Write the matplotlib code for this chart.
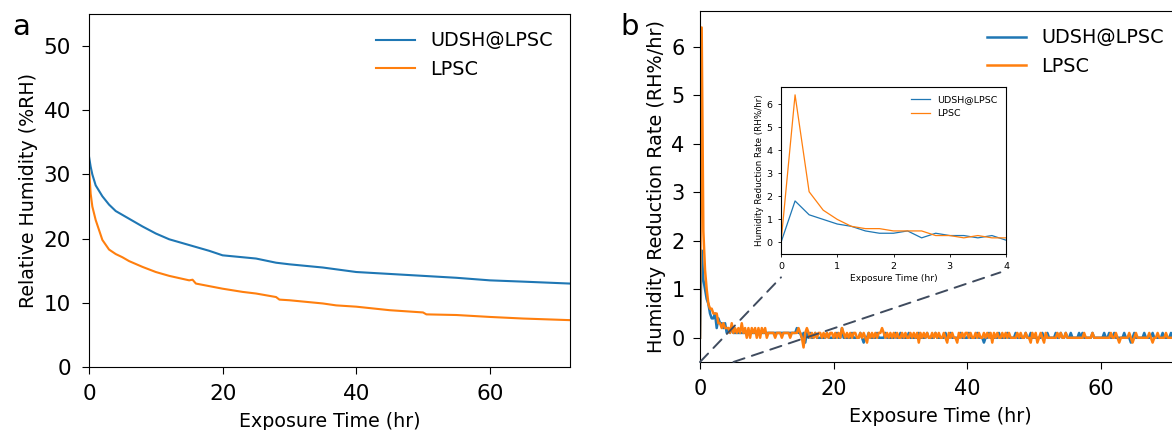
import numpy as np
import matplotlib.pyplot as plt
from matplotlib.patches import ConnectionPatch

plt.rcParams['font.family'] = ['DejaVu Sans']

# ---- panel a: relative humidity vs time ----
t_udsh = [0, 0.25, 0.5, 1, 2, 3, 4, 5, 6, 8, 10, 12, 15, 18, 20, 25, 28, 30, 35, 40, 45, 50, 55, 60, 65, 72]
rh_udsh = [32.8, 31.2, 30.0, 28.3, 26.6, 25.3, 24.3, 23.7, 23.1, 21.9, 20.8, 19.9, 19.0, 18.1, 17.4,
           16.9, 16.25, 16.0, 15.5, 14.8, 14.5, 14.2, 13.9, 13.5, 13.3, 13.0]
t_lpsc = [0, 0.25, 0.5, 1, 2, 3, 4, 5, 6, 8, 10, 12, 15, 15.5, 16, 20, 23, 25, 28, 28.5, 30, 35, 37,
          40, 45, 50, 50.5, 55, 60, 65, 72]
rh_lpsc = [31.0, 27.0, 25.0, 22.9, 19.8, 18.3, 17.6, 17.1, 16.5, 15.6, 14.8, 14.2, 13.5, 13.6, 13.0,
           12.2, 11.7, 11.45, 10.9, 10.5, 10.4, 9.9, 9.6, 9.4, 8.85, 8.5, 8.2, 8.1, 7.8, 7.55, 7.3]

# ---- panel b: reduction rate, one sample every 0.25 hr ----
# first 4 hr (t = 0 ... 4), values in RH%/hr
rate_udsh_first = [0, 1.8, 1.2, 1.0, 0.8, 0.7, 0.5, 0.4, 0.4, 0.5, 0.2, 0.4, 0.3, 0.3, 0.2, 0.3, 0.1]
rate_lpsc_first = [0, 6.4, 2.2, 1.4, 1.0, 0.7, 0.6, 0.6, 0.5, 0.5, 0.5, 0.3, 0.3, 0.2, 0.3, 0.2, 0.2]
# t = 4.25 ... 72, in tenths of RH%/hr, one row per hour
rest_udsh_tenths = [
    2, 1, 2, 1,  1, 1, 1, 1,  1, 1, 1, 1,  1, 1, 1, 1,  1, 1, 1, 1,  1, 1, 1, 1,    # 4-9
    1, 1, 1, 1,  1, 1, 1, 1,  1, 1, 1, 1,  1, 1, 1, 1,  1, 2, 1, 1,  0, 1, -1, 1,   # 10-15
    0, 1, 0, 0,  1, 0, 0, 0,  0, 0, 0, 1,  0, 0, 0, 0,  0, 1, 0, 0,  2, 0, 0, 0,    # 16-21
    0, 0, 1, 0,  0, 0, 0, 1,  0, -1, 0, 0,  1, 0, 0, 0,  0, 1, 0, 0,  0, 0, 1, 0,   # 22-27
    0, 0, 0, 0,  1, 0, 0, 1,  0, 0, 0, 0,  1, 0, 0, 0,  0, 0, 1, 0,  0, 0, 0, 1,    # 28-33
    0, 0, 0, 0,  1, 0, 0, 0,  0, 0, 1, 0,  0, 1, 0, 0,  0, 0, 0, 1,  0, 0, 0, 0,    # 34-39
    1, 0, 0, 0,  0, 1, 0, 0,  0, -1, 0, 0,  1, 0, 0, 0,  0, 0, 1, 0,  0, 0, 0, 1,   # 40-45
    0, 0, 0, 0,  1, 0, 0, 0,  0, 0, 1, 0,  0, 1, 0, 0,  0, 0, 0, 0,  1, 0, 0, 1,    # 46-51
    0, 0, 0, 0,  1, 0, 0, 1,  0, 0, 1, 0,  0, 1, 0, 0,  0, 0, 1, 0,  1, 0, 0, 0,    # 52-57
    0, 0, 1, 0,  0, 0, 0, 0,  0, 1, 0, 0,  1, 0, 0, 1,  0, 0, 0, 0,  0, 1, 0, 0,    # 58-63
    0, -1, 0, 1,  0, 0, 0, 0,  0, 1, 0, 0,  0, 0, 1, 0,  0, 0, 0, 0,  1, 0, 0, 0,   # 64-69
    0, 1, 0, 0,  0, 0, 1, 0,                                                        # 70-71
]
rest_lpsc_tenths = [
    2, 1, 3, 1,  2, 1, 2, 1,  3, 1, 2, 0,  2, 0, 2, 1,  2, 0, 2, 0,  2, 1, 2, 0,    # 4-9
    1, 1, 1, 1,  0, 1, 1, 1,  0, 1, 1, 1,  1, 0, 1, 1,  1, 1, 2, 1,  0, -2, 1, 2,   # 10-15
    1, 0, 1, 0,  1, 0, 1, 1,  0, 1, 0, 1,  0, 1, 1, 0,  1, 0, 1, 0,  2, 1, 0, 1,    # 16-21
    0, 1, 0, 1,  1, 0, 0, 1,  0, 1, 0, -1,  1, 0, 1, 0,  1, 0, 1, 1,  2, 1, 0, 1,   # 22-27
    0, 1, 0, 1,  0, 1, 0, 0,  1, 0, 1, 0,  0, 1, 0, 1,  0, 1, -1, 1,  0, 1, 0, 1,   # 28-33
    0, 0, 1, 0,  1, 0, 1, 0,  0, 1, 0, -1,  1, 0, 1, 0,  0, -1, 1, 0,  1, 0, 1, 1,  # 34-39
    0, 1, 0, 0,  1, 0, 1, 0,  0, 1, 0, 1,  0, 1, -1, 1,  0, 1, 0, 0,  1, 0, 1, 0,   # 40-45
    1, 0, 0, 0,  0, 1, 0, 1,  0, 0, 1, 0,  0, -1, 1, 0,  1, -1, 0, 1,  0, -1, 1, 0, # 46-51
    0, 0, 0, 0,  0, 1, 0, 1,  0, 0, 1, 0,  0, 0, 0, 0,  0, 0, 0, 0,  0, 1, 0, 0,    # 52-57
    0, 0, 1, 0,  0, 0, 0, 0,  0, 0, 0, 0,  0, 1, 0, 0,  1, 0, -1, 0,  0, 0, 0, 0,   # 58-63
    1, 0, -1, 0,  1, 0, 0, 0,  0, 0, 0, 0,  1, 0, -1, 0,  0, 1, 0, 0,  0, 0, 1, 0,  # 64-69
    0, 0, 0, 0,  0, 1, 0, 0,                                                        # 70-71
]

t_rate = np.arange(len(rate_udsh_first) + len(rest_udsh_tenths)) * 0.25
rate_udsh = np.concatenate([rate_udsh_first, np.array(rest_udsh_tenths) / 10])
rate_lpsc = np.concatenate([rate_lpsc_first, np.array(rest_lpsc_tenths) / 10])

labels = ['UDSH@LPSC', 'LPSC']
c_blue = '#1f77b4'
c_orange = '#ff7f0e'

fig = plt.figure(figsize=(11.72, 4.30), dpi=100)

# panel a
ax1 = fig.add_axes([89/1172, 63/430, 481/1172, 353/430])
ax1.plot(t_udsh, rh_udsh, color=c_blue, lw=1.5, label=labels[0])
ax1.plot(t_lpsc, rh_lpsc, color=c_orange, lw=1.5, label=labels[1])
ax1.set_xlim(0, 72)
ax1.set_ylim(0, 55)
ax1.set_yticks([0, 10, 20, 30, 40, 50])
ax1.set_xticks([0, 20, 40, 60])
ax1.tick_params(labelsize=15.5, length=5)
ax1.tick_params(axis='x', pad=7)
ax1.tick_params(axis='y', pad=8)
ax1.set_xlabel('Exposure Time (hr)', fontsize=13.7, labelpad=6)
ax1.set_ylabel('Relative Humidity (%RH)', fontsize=13.7)
ax1.legend(loc='upper right', frameon=False, fontsize=13.9)
fig.text(12/1172, 1 - 27/430, 'a', fontsize=21, va='center')

# panel b (axes runs past the right edge like the cropped original)
ax2 = fig.add_axes([700/1172, 68/430, 481/1172, 351/430])
ax2.plot(t_rate, rate_udsh, color=c_blue, lw=1.8, label=labels[0])
ax2.plot(t_rate, rate_lpsc, color=c_orange, lw=1.8, label=labels[1])
ax2.set_xlim(0, 72)
ax2.set_ylim(-0.5, 6.74)
ax2.set_xticks([0, 20, 40, 60])
ax2.set_yticks(range(7))
ax2.tick_params(labelsize=15, length=5)
ax2.tick_params(axis='x', pad=7)
ax2.tick_params(axis='y', pad=6)
ax2.set_xlabel('Exposure Time (hr)', fontsize=13.8, labelpad=6)
ax2.set_ylabel('Humidity Reduction Rate (RH%/hr)', fontsize=13.9)
ax2.legend(loc='upper right', frameon=False, fontsize=13.9)
fig.text(620/1172, 1 - 27/430, 'b', fontsize=21, va='center')

# inset: first 4 hours
axi = fig.add_axes([781/1172, 176/430, 225/1172, 167/430])
axi.plot(t_rate, rate_udsh, color=c_blue, lw=0.9, label=labels[0])
axi.plot(t_rate, rate_lpsc, color=c_orange, lw=0.9, label=labels[1])
axi.set_xlim(0, 4)
axi.set_ylim(-0.5, 6.74)
axi.set_xticks([0, 1, 2, 3, 4])
axi.set_yticks(range(7))
axi.tick_params(labelsize=6.8, length=2.5, width=0.6)
for s in axi.spines.values():
    s.set_linewidth(0.8)
axi.set_xlabel('Exposure Time (hr)', fontsize=6.6, labelpad=2)
axi.set_ylabel('Humidity Reduction Rate (RH%/hr)', fontsize=6.3, labelpad=2)
axi.legend(loc='upper right', frameon=False, fontsize=6.8)

# dashed zoom lines
for xa, xb, yb in [(0, 0, -0.14), (5, 0.975, -0.11)]:
    con = ConnectionPatch(xyA=(xa, -0.5), coordsA=ax2.transData,
                          xyB=(xb, yb), coordsB=axi.transAxes,
                          color='#3f4b5e', lw=1.4, linestyle=(0, (6, 4)))
    fig.add_artist(con)

fig.savefig('out.png', dpi=100)
